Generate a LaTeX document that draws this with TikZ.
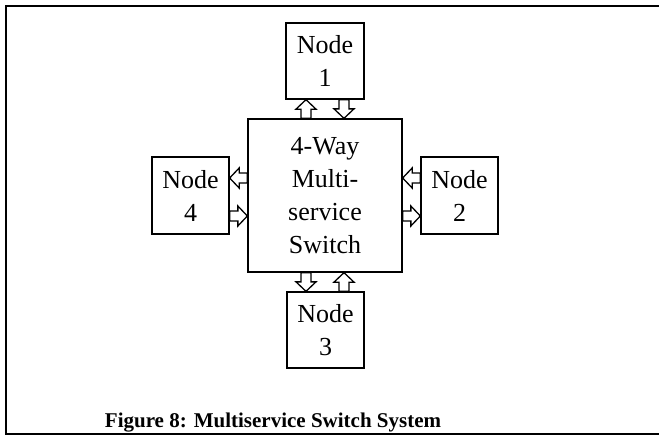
\documentclass[tikz,border=0pt]{standalone}
\usepackage{fontspec}
\setmainfont{Liberation Serif}
\usetikzlibrary{calc}
\tikzset{
  box/.style={draw, line width=1.3pt, inner sep=0pt, align=center,
    font=\fontsize{26}{33}\selectfont},
  blockarrow/.style={line width=1.3pt, fill=white, to path={
    ($(\tikztostart)!5pt!90:(\tikztotarget)$) --
    ($(\tikztotarget)!9.5pt!(\tikztostart)!5pt!90:(\tikztotarget)$) --
    ($(\tikztotarget)!9.5pt!(\tikztostart)!10pt!90:(\tikztotarget)$) --
    (\tikztotarget) --
    ($(\tikztotarget)!9.5pt!(\tikztostart)!10pt!-90:(\tikztotarget)$) --
    ($(\tikztotarget)!9.5pt!(\tikztostart)!5pt!-90:(\tikztotarget)$) --
    ($(\tikztostart)!5pt!-90:(\tikztotarget)$) -- cycle}},
  frame/.style={line width=2pt},
  caption/.style={font=\fontsize{21}{25}\selectfont\bfseries, inner sep=0pt, anchor=base}
}
\begin{document}
\begin{tikzpicture}[x=1pt,y=-1pt]
\useasboundingbox (0,0) rectangle (659,437);
\draw[frame] (659,6) -- (6,6) -- (6,434) -- (659,434);

\node[box, minimum width=154pt, minimum height=153pt] (main) at (325,195.5) {4-Way\\Multi-\\service\\Switch};
\node[box, minimum width=78pt, minimum height=76pt] (n1) at (325,61) {Node\\1};
\node[box, minimum width=77pt, minimum height=76pt] (n3) at (325.5,330) {Node\\3};
\node[box, minimum width=77pt, minimum height=77pt] (n4) at (190.5,195.5) {Node\\4};
\node[box, minimum width=77pt, minimum height=77pt] (n2) at (459.5,195.5) {Node\\2};

% arrow end points on the box borders
\coordinate (m1a) at ($(main.north)+(-19,0)$);
\coordinate (m1b) at ($(main.north)+(19,0)$);
\coordinate (n1a) at ($(n1.south)+(-19,0)$);
\coordinate (n1b) at ($(n1.south)+(19,0)$);
\coordinate (m3a) at ($(main.south)+(-19,0)$);
\coordinate (m3b) at ($(main.south)+(19,0)$);
\coordinate (n3a) at ($(n3.north)+(-19.5,0)$);
\coordinate (n3b) at ($(n3.north)+(18.5,0)$);
\coordinate (m4a) at ($(main.west)+(0,-17.5)$);
\coordinate (m4b) at ($(main.west)+(0,20.5)$);
\coordinate (n4a) at ($(n4.east)+(0,-17.5)$);
\coordinate (n4b) at ($(n4.east)+(0,20.5)$);
\coordinate (m2a) at ($(main.east)+(0,-17.5)$);
\coordinate (m2b) at ($(main.east)+(0,20.5)$);
\coordinate (n2a) at ($(n2.west)+(0,-17.5)$);
\coordinate (n2b) at ($(n2.west)+(0,20.5)$);

\draw[blockarrow] (m1a) to (n1a);
\draw[blockarrow] (n1b) to (m1b);
\draw[blockarrow] (m3a) to (n3a);
\draw[blockarrow] (n3b) to (m3b);
\draw[blockarrow] (m4a) to (n4a);
\draw[blockarrow] (n4b) to (m4b);
\draw[blockarrow] (n2a) to (m2a);
\draw[blockarrow] (m2b) to (n2b);

\node[caption] (cap) at (273,427) {Figure 8: Multiservice Switch System};
\end{tikzpicture}
\end{document}
